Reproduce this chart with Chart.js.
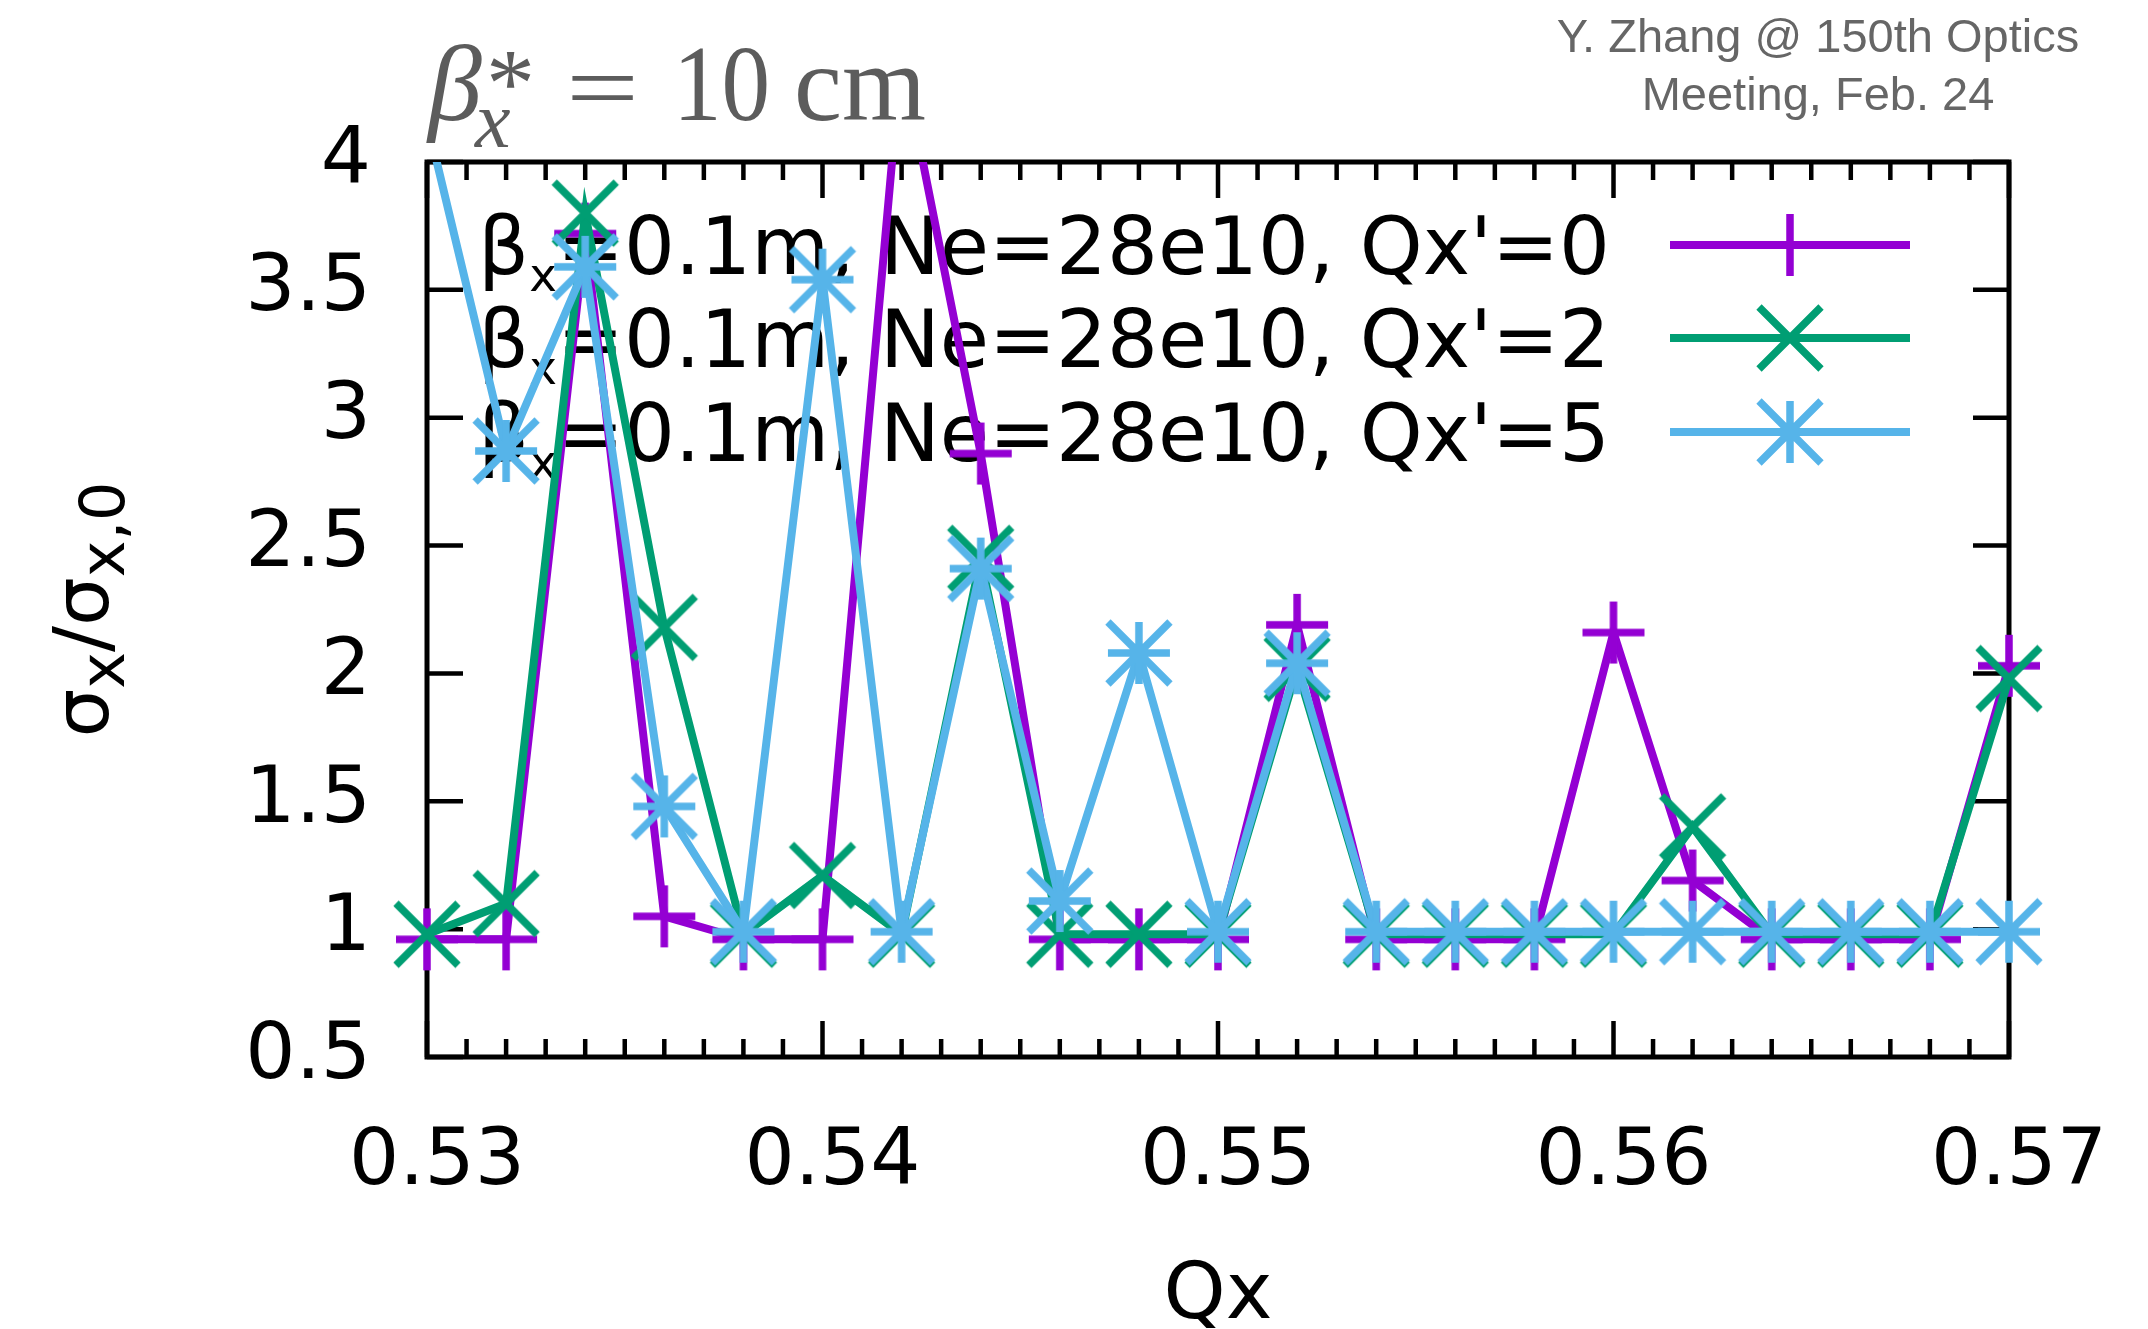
<!DOCTYPE html>
<html>
<head>
<meta charset="utf-8">
<title>Beam size vs Qx, beta* = 10 cm</title>
<script src="https://cdn.jsdelivr.net/npm/chart.js@4.4.1/dist/chart.umd.min.js"></script>
<style>
    html, body { margin: 0; padding: 0; background: #fff; }
    #wrap { width: 2148px; height: 1329px; }
</style>
</head>
<body>
<div id="wrap"><canvas id="chart" width="2148" height="1329"></canvas></div>
<script>
// horizontal tune scan
const qx = [0.530, 0.532, 0.534, 0.536, 0.538, 0.540, 0.542, 0.544, 0.546, 0.548, 0.550,
            0.552, 0.554, 0.556, 0.558, 0.560, 0.562, 0.564, 0.566, 0.568, 0.570];

// sigma_x / sigma_x,0 for each chromaticity
const sigmaQp0 = [0.96, 0.96, 3.72, 1.05, 0.96, 0.96, 4.42, 2.86, 0.96, 0.96, 0.96,
                  2.19, 0.96, 0.96, 0.96, 2.16, 1.19, 0.96, 0.96, 0.96, 2.03];
const sigmaQp2 = [0.98, 1.10, 3.80, 2.18, 0.98, 1.21, 0.98, 2.45, 0.98, 0.98, 0.98,
                  2.02, 0.98, 0.98, 0.98, 0.98, 1.40, 0.98, 0.98, 0.98, 1.98];
const sigmaQp5 = [4.16, 2.87, 3.59, 1.48, 0.99, 3.54, 0.99, 2.41, 1.11, 2.08, 0.99,
                  2.04, 0.99, 0.99, 0.99, 0.99, 0.99, 0.99, 0.99, 0.99, 0.99];

const qxPrime = [0, 2, 5];
const xTickValues = [0.53, 0.54, 0.55, 0.56, 0.57];
const yTickValues = [0.5, 1, 1.5, 2, 2.5, 3, 3.5, 4];

const FONT = 'DejaVu Sans';

// gnuplot-style markers: plus, cross, star
function markerImage(shape, color) {
    const s = 31, pad = 6;
    const c = document.createElement('canvas');
    c.width = c.height = 2 * (s + pad);
    const g = c.getContext('2d');
    g.translate(s + pad, s + pad);
    g.strokeStyle = color;
    g.lineWidth = 7.5;
    g.lineCap = 'butt';
    g.beginPath();
    if (shape === 'plus' || shape === 'star') {
        g.moveTo(-s, 0); g.lineTo(s, 0);
        g.moveTo(0, -s); g.lineTo(0, s);
    }
    if (shape === 'cross' || shape === 'star') {
        g.moveTo(-s, -s); g.lineTo(s, s);
        g.moveTo(-s, s); g.lineTo(s, -s);
    }
    g.stroke();
    return c;
}

const series = [
    { values: sigmaQp0, color: '#9400d3', marker: markerImage('plus', '#9400d3') },
    { values: sigmaQp2, color: '#009e73', marker: markerImage('cross', '#009e73') },
    { values: sigmaQp5, color: '#56b4e9', marker: markerImage('star', '#56b4e9') },
];

function buildDataset(s, i) {
    return {
        data: s.values.map((v, k) => ({ x: qx[k], y: v })),
        borderColor: s.color,
        borderWidth: 8,
        pointStyle: s.marker,
        pointRadius: 31,
        pointBorderWidth: 0,
        tension: 0,
        order: series.length - 1 - i,
        clip: { left: 45, right: 45, top: 0, bottom: 45 },
    };
}

// border box with mirrored inward tics
function drawFrame(ctx, area, x, y) {
    ctx.save();
    ctx.strokeStyle = '#000';
    ctx.lineCap = 'butt';
    ctx.lineWidth = 4.5;
    ctx.beginPath();
    for (let k = 0; k < xTickValues.length - 1; k++) {
        const a = xTickValues[k], b = xTickValues[k + 1];
        for (let m = 1; m < 10; m++) {
            const px = x.getPixelForValue(a + (b - a) * m / 10);
            ctx.moveTo(px, area.bottom); ctx.lineTo(px, area.bottom - 18);
            ctx.moveTo(px, area.top); ctx.lineTo(px, area.top + 18);
        }
    }
    xTickValues.forEach((v) => {
        const px = x.getPixelForValue(v);
        ctx.moveTo(px, area.bottom); ctx.lineTo(px, area.bottom - 36);
        ctx.moveTo(px, area.top); ctx.lineTo(px, area.top + 36);
    });
    yTickValues.forEach((v) => {
        const py = y.getPixelForValue(v);
        ctx.moveTo(area.left, py); ctx.lineTo(area.left + 36, py);
        ctx.moveTo(area.right, py); ctx.lineTo(area.right - 36, py);
    });
    ctx.stroke();
    ctx.lineWidth = 5;
    ctx.strokeRect(area.left, area.top, area.right - area.left, area.bottom - area.top);
    ctx.restore();
}

// key: text right-aligned, then line sample with marker
function drawKey(ctx) {
    const textRight = 1610, lineFrom = 1670, lineTo = 1910;
    const rowMid = [245, 338, 432];
    const main = 80, sub = 47;
    series.forEach((s, i) => {
        const yMid = rowMid[i];
        const base = yMid + 29;
        const rest = "=0.1m, Ne=28e10, Qx'=" + qxPrime[i];
        ctx.save();
        ctx.fillStyle = '#000';
        ctx.textBaseline = 'alphabetic';
        ctx.textAlign = 'left';
        ctx.font = `${main}px "${FONT}"`;
        const wBeta = ctx.measureText('β').width;
        const wRest = ctx.measureText(rest).width;
        ctx.font = `${sub}px "${FONT}"`;
        const wSub = ctx.measureText('x').width;
        let cx = textRight - (wBeta + wSub + wRest);
        ctx.font = `${main}px "${FONT}"`;
        ctx.fillText('β', cx, base);
        cx += wBeta;
        ctx.font = `${sub}px "${FONT}"`;
        ctx.fillText('x', cx, base + 17);
        cx += wSub;
        ctx.font = `${main}px "${FONT}"`;
        ctx.fillText(rest, cx, base);

        ctx.strokeStyle = s.color;
        ctx.lineWidth = 8;
        ctx.beginPath();
        ctx.moveTo(lineFrom, yMid);
        ctx.lineTo(lineTo, yMid);
        ctx.stroke();
        const mx = (lineFrom + lineTo) / 2;
        ctx.drawImage(s.marker, mx - s.marker.width / 2, yMid - s.marker.height / 2);
        ctx.restore();
    });
}

function drawAxisTitles(ctx, area) {
    ctx.save();
    ctx.fillStyle = '#000';
    ctx.textBaseline = 'alphabetic';

    // y: sigma_x / sigma_x,0, rotated
    const parts = [
        ['σ', 77, 0], ['x', 62, 16], ['/', 77, 0], ['σ', 77, 0], ['x,0', 62, 16],
    ];
    let total = 0;
    parts.forEach((p) => {
        ctx.font = `${p[1]}px "${FONT}"`;
        p.push(ctx.measureText(p[0]).width);
        total += p[3];
    });
    ctx.translate(108, (area.top + area.bottom) / 2);
    ctx.rotate(-Math.PI / 2);
    ctx.textAlign = 'left';
    let cx = -total / 2;
    parts.forEach((p) => {
        ctx.font = `${p[1]}px "${FONT}"`;
        ctx.fillText(p[0], cx, p[2]);
        cx += p[3];
    });
    ctx.setTransform(1, 0, 0, 1, 0, 0);

    // x: Qx
    ctx.font = `79px "${FONT}"`;
    ctx.textAlign = 'center';
    ctx.fillText('Qx', (area.left + area.right) / 2, 1318);
    ctx.restore();
}

function drawHeader(ctx) {
    ctx.save();
    ctx.textBaseline = 'alphabetic';
    ctx.textAlign = 'left';
    ctx.fillStyle = '#5c5c5c';
    ctx.font = 'italic 108px "Liberation Serif"';
    ctx.fillText('β', 428, 120);
    ctx.font = '98px "Liberation Serif"';
    ctx.fillText('*', 486, 116);
    ctx.font = 'italic 80px "Liberation Serif"';
    ctx.fillText('x', 475, 147);
    ctx.font = '108px "Liberation Serif"';
    ctx.save();
    ctx.translate(566, 120);
    ctx.scale(1.2, 0.9);
    ctx.fillText('=', 0, 0);
    ctx.restore();
    ctx.save();
    ctx.translate(673, 120);
    ctx.scale(0.9, 1);
    ctx.fillText('10', 0, 0);
    ctx.restore();
    ctx.fillText('cm', 794, 120);

    ctx.fillStyle = '#666';
    ctx.font = '47px "Liberation Sans"';
    ctx.textAlign = 'center';
    ctx.fillText('Y. Zhang @ 150th Optics', 1818, 52);
    ctx.fillText('Meeting, Feb. 24', 1818, 110);
    ctx.restore();
}

const gnuplotLook = {
    id: 'gnuplotLook',
    beforeDatasetsDraw(chart) {
        const { ctx, chartArea, scales } = chart;
        drawFrame(ctx, chartArea, scales.x, scales.y);
        drawKey(ctx);
    },
    afterDraw(chart) {
        drawAxisTitles(chart.ctx, chart.chartArea);
        drawHeader(chart.ctx);
    },
};

// keep label overhang from shrinking the plot box
function noOverhang(s) {
    s.paddingLeft = 0;
    s.paddingRight = 0;
    s.paddingTop = 0;
    s.paddingBottom = 0;
}

function render() {
    Chart.defaults.font.family = FONT;
    Chart.defaults.color = '#000';
    new Chart(document.getElementById('chart'), {
        type: 'line',
        data: { datasets: series.map(buildDataset) },
        options: {
            responsive: false,
            devicePixelRatio: 1,
            animation: false,
            events: [],
            layout: { padding: { top: 162, right: 139, bottom: 0, left: 0 } },
            plugins: { legend: { display: false }, tooltip: { enabled: false } },
            scales: {
                x: {
                    type: 'linear',
                    min: 0.53,
                    max: 0.57,
                    afterBuildTicks: (s) => { s.ticks = xTickValues.map((v) => ({ value: v })); },
                    afterFit: (s) => { s.height = 272; noOverhang(s); },
                    grid: { display: false, drawTicks: false },
                    border: { display: false },
                    ticks: {
                        font: { size: 79 },
                        color: '#000',
                        padding: 59,
                        labelOffset: 10,
                        maxRotation: 0,
                        autoSkip: false,
                        callback: (v) => Number(v).toFixed(2),
                    },
                },
                y: {
                    type: 'linear',
                    min: 0.5,
                    max: 4,
                    afterBuildTicks: (s) => { s.ticks = yTickValues.map((v) => ({ value: v })); },
                    afterFit: (s) => { s.width = 427; noOverhang(s); },
                    grid: { display: false, drawTicks: false },
                    border: { display: false },
                    ticks: {
                        font: { size: 79 },
                        color: '#000',
                        padding: 56,
                        autoSkip: false,
                        callback: (v) => String(v),
                    },
                },
            },
        },
        plugins: [gnuplotLook],
    });
}

Promise.all([
    document.fonts.load(`76px "${FONT}"`),
    document.fonts.load('italic 108px "Liberation Serif"'),
    document.fonts.load('108px "Liberation Serif"'),
    document.fonts.load('47px "Liberation Sans"'),
]).then(render, render);
</script>
</body>
</html>
